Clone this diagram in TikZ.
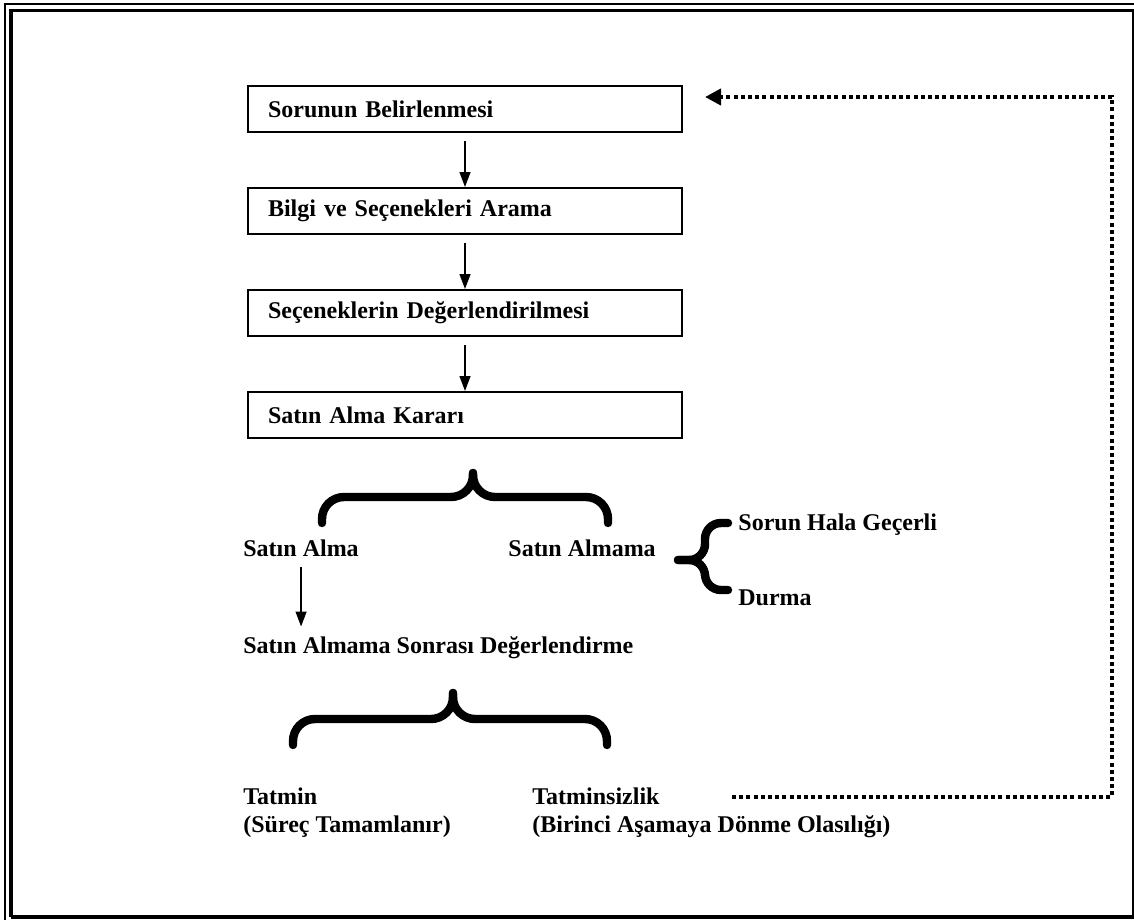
\documentclass[tikz,border=0pt]{standalone}
\usepackage{fontspec}
\setmainfont{Liberation Serif}
\usetikzlibrary{positioning,arrows.meta}

\tikzset{
  stepbox/.style={draw, line width=1pt, minimum height=23pt, text width=197pt,
                  inner xsep=10pt, align=left, font=\fontsize{12}{14}\bfseries},
  lbl/.style={font=\fontsize{12}{14}\bfseries, inner sep=0pt, anchor=west},
  flow/.style={line width=0.7pt, -{Triangle[width=5.5pt,length=7.5pt]}},
  brace/.style={line width=4.2pt, line cap=round, rounded corners=11pt},
  back/.style={line width=2pt, dash pattern=on 2pt off 1.6pt,
               -{Triangle[width=8pt,length=8pt]}}
}

\begin{document}
\begin{tikzpicture}[x=0.5pt, y=-0.5pt]
\useasboundingbox (0,0) rectangle (1134,920);
% page frame
\draw[line width=0.6pt] (5,920) -- (5,4) -- (1134,4);
\draw[line width=1.6pt] (11,917) -- (11,10.5) -- (1134,10.5);
\draw[line width=1.6pt] (11,917) -- (1134,917);
\draw[line width=0.8pt] (1133,10.5) -- (1133,917);

% steps
\node[stepbox] (sorun) at (465,109) {Sorunun Belirlenmesi};
\node[stepbox, below=27pt of sorun] (bilgi) {Bilgi ve Seçenekleri Arama};
\node[stepbox, below=27pt of bilgi] (degerlendirme) {Seçeneklerin Değerlendirilmesi};
\node[stepbox, below=27pt of degerlendirme] (karar) {Satın Alma Kararı};

\draw[flow, shorten <=4pt] (sorun) -- (bilgi);
\draw[flow, shorten <=4pt] (bilgi) -- (degerlendirme);
\draw[flow, shorten <=4pt] (degerlendirme) -- (karar);

% outcomes
\node[lbl] (alma) at (243,548) {Satın Alma};
\node[lbl] (almama) at (508,548) {Satın Almama};
\node[lbl] (gecerli) at (738,525) {Sorun Hala Geçerli};
\node[lbl] (durma) at (738,598) {Durma};
\node[lbl] (sonrasi) at (243,648) {Satın Almama Sonrası Değerlendirme};
\node[lbl, anchor=north west, align=left] (tatmin) at (243,787)
  {Tatmin\\(Süreç Tamamlanır)};
\node[lbl, anchor=north west, align=left] (tatminsiz) at (532,787)
  {Tatminsizlik\\(Birinci Aşamaya Dönme Olasılığı)};

\draw[flow, shorten <=5pt, shorten >=5pt] (alma.south) -- (alma.south |- sonrasi.north);

% braces
\draw[brace] (322,523) |- (473,497) -- (473,473);
\draw[brace] (608,523) |- (473,497) -- (473,473);
\draw[brace, rounded corners=8pt] (728,523) -| (705,560) -- (678,560);
\draw[brace, rounded corners=8pt] (728,590) -| (705,560) -- (678,560);
\draw[brace] (293,745) |- (453,719) -- (453,693);
\draw[brace] (607,745) |- (453,719) -- (453,693);

% back to the first step
\coordinate (dotstart) at (732,797);
\coordinate (turn) at (1112,97);
\draw[back, shorten >=11pt] (dotstart) -| (turn) -- (sorun.east |- turn);
\end{tikzpicture}
\end{document}
